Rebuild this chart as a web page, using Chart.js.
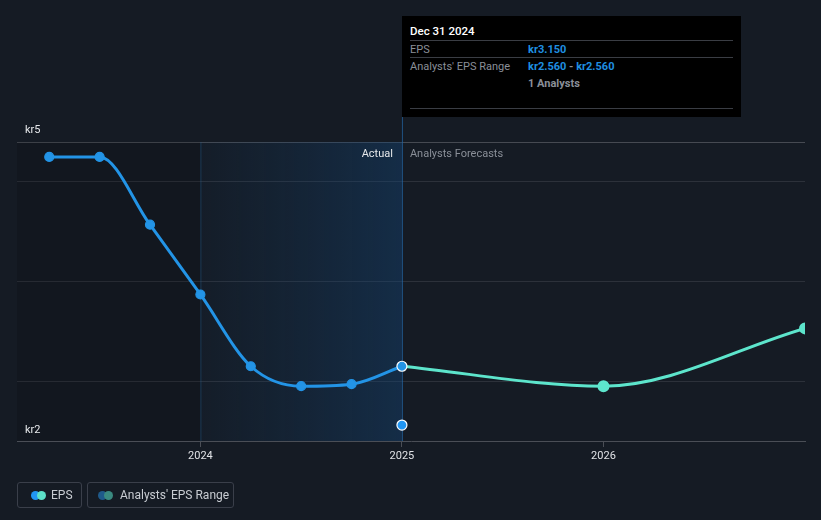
<!DOCTYPE html>
<html>
<head>
<meta charset="utf-8">
<script src="https://cdn.jsdelivr.net/npm/chart.js@4.4.1/dist/chart.umd.min.js"></script>
<style>
  html, body { margin: 0; padding: 0; background: #151b24; }
  body { width: 821px; height: 520px; position: relative; overflow: hidden; font-family: Roboto, "Noto Sans", sans-serif; }
  #wrap { position: absolute; left: 0; top: 0; width: 821px; height: 520px; }
  .tip { position: absolute; left: 402px; top: 16px; width: 339px; height: 101px; background: #000; font-size: 11px; }
  .tip .row { position: absolute; left: 8px; width: 323px; }
  .tip .sep { position: absolute; left: 8px; width: 323px; height: 1px; background: #3a3d44; }
  .lbl { color: #8a8f98; }
  .val { color: #1f8fe0; font-weight: bold; position: absolute; left: 118px; top: 0; }
  .legend { position: absolute; top: 482px; height: 26px; border: 1px solid #3a3f4a; border-radius: 3px; color: #c8ccd2; font-size: 12px; box-sizing: border-box; }
  .legend span.t { position: absolute; top: 5px; }
  .dot { position: absolute; top: 8px; width: 9px; height: 9px; border-radius: 50%; }
</style>
</head>
<body>
<div id="wrap"><canvas id="chart" width="821" height="520"></canvas></div>

<div class="tip">
  <div class="row" style="top:8px;color:#fff;font-weight:500;font-size:11.5px">Dec 31 2024</div>
  <div class="sep" style="top:24px"></div>
  <div class="row lbl" style="top:27px">EPS<span class="val">kr3.150</span></div>
  <div class="sep" style="top:41px"></div>
  <div class="row lbl" style="top:44px">Analysts' EPS Range<span class="val">kr2.560 <span style="color:#8a8f98">-</span> kr2.560</span></div>
  <div class="row" style="top:61px"><span style="position:absolute;left:118px;color:#8a8f98;font-weight:bold">1 Analysts</span></div>
  <div class="sep" style="top:92px"></div>
</div>

<div class="legend" style="left:17px;width:65px">
  <div class="dot" style="left:13px;background:#2196f3"></div>
  <div class="dot" style="left:19px;background:#5ce0c8"></div>
  <span class="t" style="left:33px">EPS</span>
</div>
<div class="legend" style="left:87px;width:147px">
  <div class="dot" style="left:10px;background:#1f5a8a"></div>
  <div class="dot" style="left:16px;background:#3a8a80"></div>
  <span class="t" style="left:32px">Analysts' EPS Range</span>
</div>

<script>
// Quarterly EPS history (kr)
const actualDates = [2023.25, 2023.5, 2023.75, 2024.0, 2024.25, 2024.5, 2024.75, 2025.0];
const actualEps = [5.25, 5.25, 4.57, 3.87, 3.15, 2.95, 2.97, 3.15];

// Analyst forecast (kr)
const forecastDates = [2025.0, 2026.0, 2027.0];
const forecastEps = [3.15, 2.95, 3.53];

// Analyst range at last report date
const rangeDates = [2025.0];
const rangeLow = [2.56];

const xTicks = [2024, 2025, 2026];
const yLabels = ['kr5', 'kr2'];
const yGrid = [3, 4, 5, 5.40];

const toPoints = (xs, ys) => xs.map((x, i) => ({x: x, y: ys[i]}));

const backdropPlugin = {
    id: 'backdrop',
    beforeDatasetsDraw: (chart) => {
        const {ctx, chartArea} = chart;
        const xs = chart.scales.x;
        const x24 = xs.getPixelForValue(2024);
        const x25 = xs.getPixelForValue(2025);
        ctx.save();
        // darker past area
        ctx.fillStyle = 'rgba(0,0,0,0.13)';
        ctx.fillRect(chartArea.left, chartArea.top, x24 - chartArea.left, chartArea.bottom - chartArea.top);
        // highlighted last year
        const g = ctx.createLinearGradient(x24, 0, x25, 0);
        g.addColorStop(0, 'rgba(20,60,100,0.08)');
        g.addColorStop(1, 'rgba(20,70,120,0.42)');
        ctx.fillStyle = g;
        ctx.fillRect(x24, chartArea.top, x25 - x24, chartArea.bottom - chartArea.top);
        ctx.strokeStyle = 'rgba(40,90,140,0.45)';
        ctx.lineWidth = 1;
        ctx.beginPath();
        ctx.moveTo(x24 + 0.5, chartArea.top);
        ctx.lineTo(x24 + 0.5, chartArea.bottom);
        ctx.stroke();
        ctx.strokeStyle = 'rgba(35,100,160,0.75)';
        ctx.beginPath();
        ctx.moveTo(x25 + 0.5, 117);
        ctx.lineTo(x25 + 0.5, chartArea.bottom);
        ctx.stroke();

        ctx.font = '11px Roboto, "Noto Sans", sans-serif';
        ctx.textBaseline = 'middle';
        ctx.textAlign = 'right';
        ctx.fillStyle = '#e6e8eb';
        ctx.fillText('Actual', x25 - 9, 154);
        ctx.textAlign = 'left';
        ctx.fillStyle = '#8a8f98';
        ctx.fillText('Analysts Forecasts', x25 + 8, 154);

        ctx.fillStyle = '#e6e8eb';
        ctx.fillText(yLabels[0], 25, 130);
        ctx.fillText(yLabels[1], 25, 430);
        ctx.restore();
    }
};

const ctx = document.getElementById('chart');

new Chart(ctx, {
    type: 'line',
    data: {
        datasets: [
            {
                label: 'Range',
                data: toPoints(rangeDates, rangeLow),
                showLine: false,
                pointRadius: 5,
                pointBackgroundColor: '#2196f3',
                pointBorderColor: '#ffffff',
                pointBorderWidth: 1.2
            },
            {
                label: 'EPS',
                data: toPoints(actualDates, actualEps),
                borderColor: '#2394e6',
                borderWidth: 3,
                cubicInterpolationMode: 'monotone',
                pointRadius: actualDates.map((d, i) => i == actualDates.length - 1 ? 5 : 4.5),
                pointBackgroundColor: '#2394e6',
                pointBorderColor: actualDates.map((d, i) => i == actualDates.length - 1 ? '#ffffff' : '#2394e6'),
                pointBorderWidth: 1.2
            },
            {
                label: 'Forecast',
                data: toPoints(forecastDates, forecastEps),
                borderColor: '#5de5cc',
                borderWidth: 3,
                cubicInterpolationMode: 'monotone',
                pointRadius: [0, 4.5, 4.5],
                pointBackgroundColor: '#5de5cc',
                pointBorderColor: '#5de5cc',
                order: 5
            }
        ]
    },
    options: {
        responsive: false,
        animation: false,
        events: [],
        layout: { padding: { left: 17, right: 16, top: 142, bottom: 0 } },
        plugins: { legend: { display: false }, tooltip: { enabled: false } },
        scales: {
            x: {
                type: 'linear',
                min: 2023.09,
                max: 2027.0,
                afterBuildTicks: (s) => { s.ticks = xTicks.map(v => ({value: v})); },
                afterFit: (s) => { s.height = 79; },
                ticks: {
                    color: '#e0e2e6',
                    font: { family: 'Roboto', size: 11 },
                    padding: 3,
                    maxRotation: 0,
                    callback: (v) => String(v)
                },
                grid: { drawOnChartArea: false, drawTicks: true, tickLength: 6, color: '#4a4e56' },
                border: { color: '#4a4e56', width: 1 }
            },
            y: {
                type: 'linear',
                min: 2.4,
                max: 5.40,
                afterBuildTicks: (s) => { s.ticks = yGrid.map(v => ({value: v})); },
                afterFit: (s) => { s.width = 0; },
                ticks: { display: false },
                grid: {
                    drawTicks: false,
                    color: (c) => c.tick && c.tick.value > 5.3 ? '#464a52' : '#2c313a'
                },
                border: { display: false }
            }
        }
    },
    plugins: [backdropPlugin]
});
</script>
</body>
</html>
